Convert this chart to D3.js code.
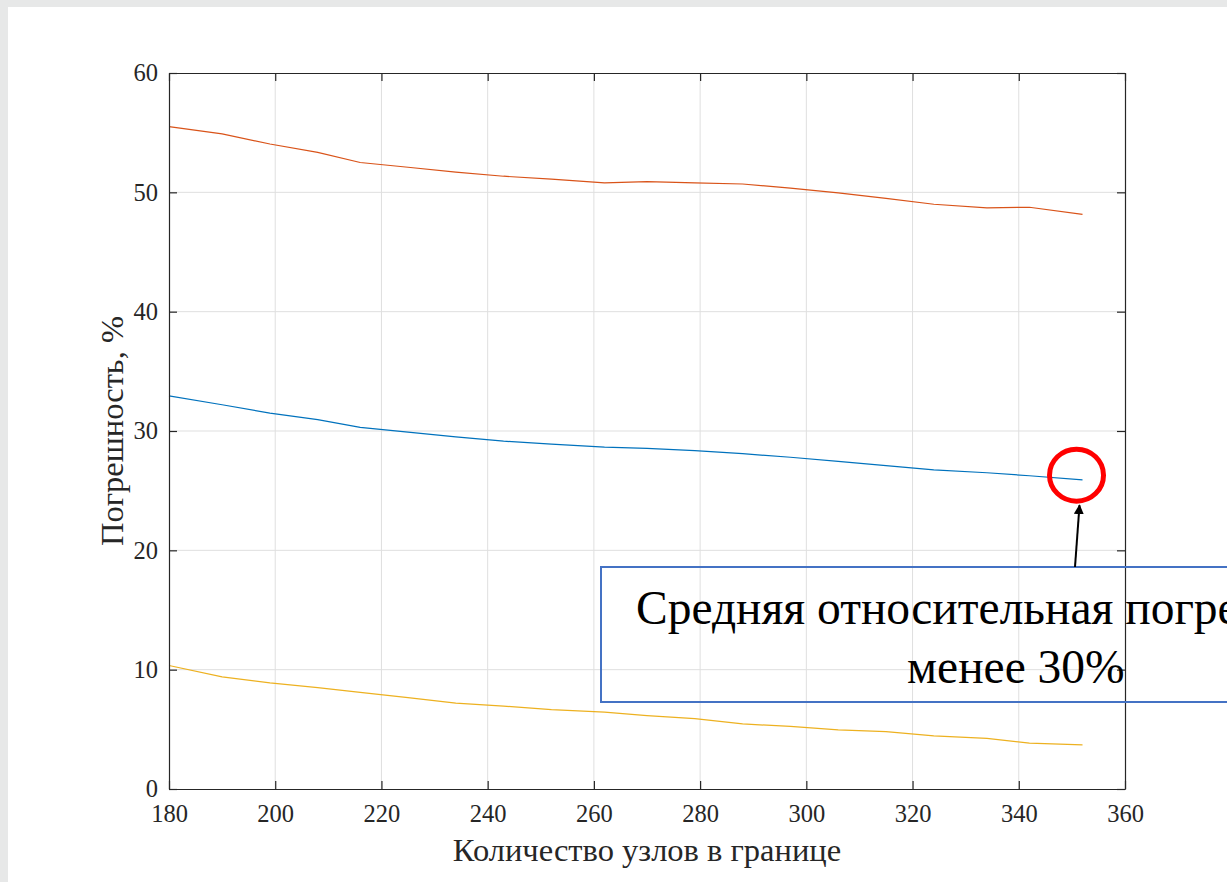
<!DOCTYPE html>
<html>
<head>
<meta charset="utf-8">
<script src="https://cdn.jsdelivr.net/npm/d3@7"></script>
<style>
  html, body { margin: 0; padding: 0; background: #e7e8e8; overflow: hidden; }
  svg { display: block; }
</style>
</head>
<body>
<svg id="chart" width="1227" height="882"></svg>
<script>
// Number of boundary nodes
const nodes = [180, 190, 199, 208, 216, 225, 234, 243, 252, 262, 270, 279, 288, 297, 306, 315, 324, 334, 342, 352];
// Error, % (three series)
const errorMax  = [55.5, 54.9, 54.05, 53.35, 52.5, 52.1, 51.7, 51.35, 51.1, 50.8, 50.9, 50.8, 50.7, 50.35, 49.95, 49.5, 49.0, 48.7, 48.75, 48.15];
const errorMean = [32.95, 32.2, 31.5, 30.95, 30.3, 29.9, 29.5, 29.15, 28.9, 28.65, 28.55, 28.35, 28.1, 27.8, 27.45, 27.1, 26.75, 26.5, 26.25, 25.9];
const errorMin  = [10.35, 9.4, 8.9, 8.5, 8.1, 7.65, 7.2, 6.95, 6.65, 6.45, 6.15, 5.9, 5.45, 5.25, 4.95, 4.8, 4.45, 4.25, 3.85, 3.7];
const xTicks = [180, 200, 220, 240, 260, 280, 300, 320, 340, 360];
const yTicks = [0, 10, 20, 30, 40, 50, 60];
const seriesColors = ["#D95319", "#0072BD", "#EDB120"];
const calloutLines = ["Средняя относительная погрешность", "менее 30%"];
const highlightNode = 352, highlightValue = 26.3;

const svg = d3.select("#chart");
const W = 1227, H = 882;
const m = { left: 169, top: 73, right: 1125, bottom: 789 };

// page card
svg.append("rect").attr("x", 8).attr("y", 7).attr("width", W).attr("height", H).attr("fill", "#ffffff");

const x = d3.scaleLinear().domain([180, 360]).range([m.left, m.right]);
const y = d3.scaleLinear().domain([0, 60]).range([m.bottom, m.top]);

const font = "'Liberation Serif', 'Times New Roman', serif";
const axisColor = "#262626";

// grid
const grid = svg.append("g");
grid.selectAll(".gx").data(xTicks.slice(1, -1)).join("line")
  .attr("x1", d => x(d)).attr("x2", d => x(d)).attr("y1", m.top).attr("y2", m.bottom)
  .attr("stroke", "#dfdfdf").attr("stroke-width", 1);
grid.selectAll(".gy").data(yTicks.slice(1, -1)).join("line")
  .attr("x1", m.left).attr("x2", m.right).attr("y1", d => y(d)).attr("y2", d => y(d))
  .attr("stroke", "#dfdfdf").attr("stroke-width", 1);

// lines
const series = [errorMax, errorMean, errorMin];
const line = d3.line().x((d, i) => x(nodes[i])).y(d => y(d));
series.forEach((vals, k) => {
  svg.append("path").datum(vals).attr("d", line)
    .attr("fill", "none").attr("stroke", seriesColors[k]).attr("stroke-width", 1.2);
});

// axes (ticks pointing inward, box on all sides)
const tickLen = 8;
const styleAxis = g => {
  g.select(".domain").attr("stroke", axisColor).attr("stroke-width", 1.2);
  g.selectAll(".tick line").attr("stroke", axisColor).attr("stroke-width", 1.2);
  g.selectAll("text").attr("font-family", font).attr("font-size", 24.5).attr("fill", "#262626");
};
svg.append("g").attr("transform", `translate(0,${m.bottom})`)
  .call(d3.axisBottom(x).tickValues(xTicks).tickSizeInner(-tickLen).tickSizeOuter(0).tickPadding(16))
  .call(styleAxis);
svg.append("g").attr("transform", `translate(0,${m.top})`)
  .call(d3.axisTop(x).tickValues(xTicks).tickSizeInner(-tickLen).tickSizeOuter(0).tickFormat(""))
  .call(styleAxis);
svg.append("g").attr("transform", `translate(${m.left},0)`)
  .call(d3.axisLeft(y).tickValues(yTicks).tickSizeInner(-tickLen).tickSizeOuter(0).tickPadding(11))
  .call(styleAxis);
svg.append("g").attr("transform", `translate(${m.right},0)`)
  .call(d3.axisRight(y).tickValues(yTicks).tickSizeInner(-tickLen).tickSizeOuter(0).tickFormat(""))
  .call(styleAxis);

// axis titles
svg.append("text").attr("x", (m.left + m.right) / 2).attr("y", 861)
  .attr("text-anchor", "middle").attr("font-family", font).attr("font-size", 32.5).attr("fill", "#262626")
  .text("Количество узлов в границе");
svg.append("text").attr("transform", `translate(123,${(m.top + m.bottom) / 2}) rotate(-90)`)
  .attr("text-anchor", "middle").attr("font-family", font).attr("font-size", 32.5).attr("fill", "#262626")
  .text("Погрешность, %");

// callout: box, arrow, circle
svg.append("rect").attr("x", 601).attr("y", 567).attr("width", 700).attr("height", 135)
  .attr("fill", "none").attr("stroke", "#4472C4").attr("stroke-width", 2);
svg.append("text").attr("x", 636).attr("y", 624)
  .attr("font-family", font).attr("font-size", 47.5).attr("fill", "#000")
  .text(calloutLines[0]);
svg.append("text").attr("x", 907).attr("y", 683)
  .attr("font-family", font).attr("font-size", 47.5).attr("fill", "#000")
  .text(calloutLines[1]);

const cx = x(highlightNode) - 6, cy = y(highlightValue);
svg.append("defs").append("marker").attr("id", "arrowhead")
  .attr("viewBox", "0 0 10 10").attr("refX", 9).attr("refY", 5)
  .attr("markerWidth", 5).attr("markerHeight", 5).attr("orient", "auto")
  .append("path").attr("d", "M0,0 L10,5 L0,10 z").attr("fill", "#000");
svg.append("line").attr("x1", 1075).attr("y1", 567).attr("x2", cx + 3).attr("y2", cy + 30)
  .attr("stroke", "#000").attr("stroke-width", 2).attr("marker-end", "url(#arrowhead)");
svg.append("ellipse").attr("cx", cx).attr("cy", cy).attr("rx", 27).attr("ry", 26)
  .attr("fill", "none").attr("stroke", "#ff0000").attr("stroke-width", 5);
</script>
</body>
</html>
